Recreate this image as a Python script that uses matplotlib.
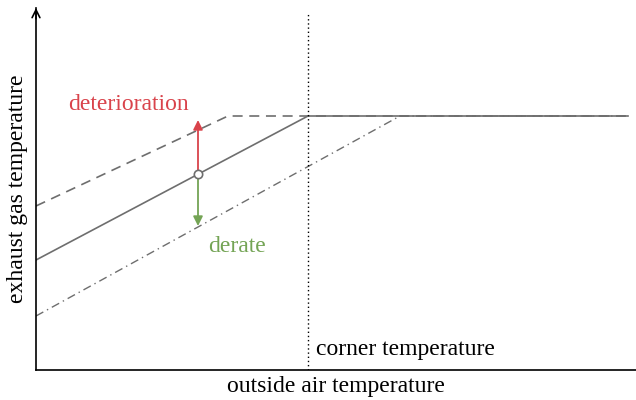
import matplotlib.pyplot as plt

# schematic values (arbitrary units)
corner = 272
nominal_x = [0, 272, 592]
nominal_y = [110, 254, 254]
deter_x = [0, 192, 592]
deter_y = [164, 254, 254]
derate_x = [0, 364, 592]
derate_y = [54, 254, 254]
point = (162, 196)
deter_tip = 250
derate_tip = 144

grey = '#6e6e6e'
red = '#d9434b'
green = '#74a455'

plt.rcParams['font.family'] = ['Liberation Serif', 'DejaVu Serif']
fs = 17

fig = plt.figure(figsize=(6.36, 4.0), dpi=100)
ax = fig.add_axes([36 / 636, 30 / 400, 600 / 636, 362 / 400])
ax.set_xlim(0, 600)
ax.set_ylim(0, 362)

ax.plot(nominal_x, nominal_y, color=grey, lw=1.2)
ax.plot(deter_x, deter_y, color=grey, lw=1.2, ls=(0, (6, 4)))
ax.plot(derate_x, derate_y, color=grey, lw=1.0, ls=(0, (6, 3, 1, 3)))
ax.axvline(corner, ymax=356 / 362, color='black', lw=1.0, ls=(0, (1, 2)))

ax.annotate('', xy=(point[0], deter_tip), xytext=point,
            arrowprops=dict(arrowstyle='-|>', color=red, lw=1.3,
                            mutation_scale=14, shrinkA=0, shrinkB=0))
ax.annotate('', xy=(point[0], derate_tip), xytext=point,
            arrowprops=dict(arrowstyle='-|>', color=green, lw=1.3,
                            mutation_scale=14, shrinkA=0, shrinkB=0))
ax.plot(*point, 'o', ms=6, mfc='white', mec=grey, mew=1.2, zorder=5)

ax.text(92, 266, 'deterioration', color=red, fontsize=fs, ha='center', va='center')
ax.text(201, 124, 'derate', color=green, fontsize=fs, ha='center', va='center')
ax.text(280, 20, 'corner temperature', color='black', fontsize=fs, ha='left', va='center')

for s in ['top', 'right']:
    ax.spines[s].set_visible(False)
ax.spines['left'].set_linewidth(1.2)
ax.spines['bottom'].set_linewidth(1.2)
ax.set_xticks([])
ax.set_yticks([])
ax.annotate('', xy=(0, 1.0), xytext=(0, 0.97), xycoords='axes fraction',
            arrowprops=dict(arrowstyle='->', color='black', lw=1.2, mutation_scale=14,
                            shrinkA=0, shrinkB=0))

ax.set_xlabel('outside air temperature', fontsize=fs, labelpad=4)
ax.set_ylabel('exhaust gas temperature', fontsize=fs, labelpad=6)

fig.savefig('out.png', dpi=100)
